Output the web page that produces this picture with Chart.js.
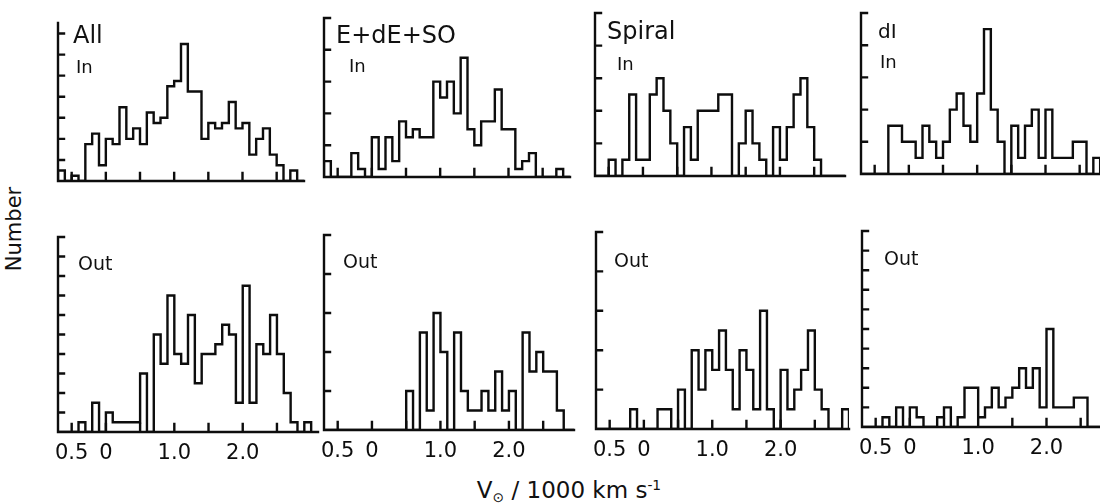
<!DOCTYPE html>
<html>
<head>
<meta charset="utf-8">
<script src="https://cdn.jsdelivr.net/npm/chart.js@4"></script>
<style>
  html, body { margin: 0; padding: 0; background: #fff; overflow: hidden; }
  #wrap { position: relative; width: 1100px; height: 504px; overflow: hidden;
          font-family: 'DejaVu Sans', 'Liberation Sans', sans-serif; color: #111; }
  #wrap canvas { position: absolute; }
  .lbl { position: absolute; white-space: nowrap; line-height: 1; }
  #ytitle { position: absolute; left: 14px; top: 229px; font-size: 21px; line-height: 1;
            transform: translate(-50%, -50%) rotate(-90deg); white-space: nowrap; }
  #xtitle { position: absolute; left: 369px; width: 400px; top: 479px; text-align: center;
            font-size: 23px; line-height: 1; white-space: nowrap; }
  #xtitle sub { font-size: 0.6em; line-height: 0; position: relative; top: 0.3em; vertical-align: baseline; }
  #xtitle sup { font-size: 0.6em; line-height: 0; position: relative; top: -0.6em; vertical-align: baseline; }
</style>
</head>
<body>
<div id="wrap">
  <div id="ytitle">Number</div>
  <div id="xtitle">V<sub>⊙</sub> / 1000 km s<sup>-1</sup></div>
</div>
<script>
// histogram bins: 100 km/s wide, first bin starts at -700 km/s
var binStart = -0.7;
var binWidth = 0.1;

// counts per bin, inner region
var allIn  = [2,0,1,0,7,9,3,8,7,14,8,10,7,13,11,12,18,19,26,17,17,8,11,10,11,15,10,11,5,8,10,5,3,0,2,0,0];
var eIn    = [2,0,0,0,3,1,0,5,1,5,2,7,5,6,5,5,12,10,12,8,15,6,4,7,7,11,6,6,1,2,3,0,0,0,1,0,0];
var spIn   = [0,0,1,0,1,5,1,1,5,6,4,2,0,3,1,4,4,4,5,5,0,2,4,2,1,0,3,1,3,5,6,3,1,0,0,0,0];
var dIn    = [0,0,0,0,3,3,2,2,1,3,2,1,2,4,5,3,2,5,9,4,2,0,3,1,3,4,1,4,1,1,1,2,2,0,1,0,0];

// counts per bin, outer region
var allOut = [0,0,0,1,0,3,0,2,1,1,1,1,6,0,10,7,14,8,7,12,5,8,8,9,11,10,3,15,3,9,8,12,8,4,1,0,1];
var eOut   = [0,0,0,0,0,0,0,0,0,0,0,0,2,0,5,1,6,4,0,5,2,1,1,2,1,3,1,2,0,5,3,4,3,3,1,0,0];
var spOut  = [0,0,0,0,0,1,0,0,0,1,1,0,2,0,4,2,4,3,5,3,1,4,3,1,6,1,0,3,1,2,3,5,2,1,0,0,1];
var dOut   = [0,0,0,1,0,2,0,2,1,0,0,1,2,0,1,4,4,1,2,4,2,3,4,6,4,6,2,10,2,2,2,3,3,0,0,0,0];

var xTickVals = [-0.5, 0, 0.5, 1.0, 1.5, 2.0, 2.5];
var labelVals = [-0.5, 0, 1.0, 2.0];
var labelText = ["0.5", "0", "1.0", "2.0"];

var ink = '#0d0d0d';
var face = "'DejaVu Sans', 'Liberation Sans', sans-serif";
var pxPerUnit = 68.4;
var pad = 8;
var padL = 18;
var xAxisH = 36;
var lineW = 2.4;

var panels = [
  {counts: allIn,  yMax: 30, xMax: 2.9,  left: 58,  top: 23,  bottom: 217, row: 0},
  {counts: eIn,    yMax: 20, xMax: 2.9,  left: 324, top: 18,  bottom: 213, row: 0},
  {counts: spIn,   yMax: 10, xMax: 2.95, left: 595, top: 13,  bottom: 212, row: 0},
  {counts: dIn,    yMax: 10, xMax: 2.9,  left: 861, top: 13,  bottom: 210, row: 0},
  {counts: allOut, yMax: 20, xMax: 3.1,  left: 58,  top: 237, bottom: 432, row: 1},
  {counts: eOut,   yMax: 10, xMax: 2.95, left: 324, top: 235, bottom: 430, row: 1},
  {counts: spOut,  yMax: 10, xMax: 3.0,  left: 596, top: 232, bottom: 429, row: 1},
  {counts: dOut,   yMax: 20, xMax: 2.9,  left: 862, top: 231, bottom: 427, row: 1}
];

var texts = [
  {t: 'All',     x: 73,  base: 43,  size: 24},
  {t: 'In',      x: 76,  base: 73,  size: 18},
  {t: 'E+dE+SO', x: 336, base: 43,  size: 24},
  {t: 'In',      x: 349, base: 72,  size: 18},
  {t: 'Spiral',  x: 607, base: 39,  size: 24},
  {t: 'In',      x: 617, base: 70,  size: 18},
  {t: 'dI',      x: 878, base: 38,  size: 20},
  {t: 'In',      x: 880, base: 68,  size: 18},
  {t: 'Out',     x: 78,  base: 270, size: 19},
  {t: 'Out',     x: 343, base: 268, size: 19},
  {t: 'Out',     x: 614, base: 267, size: 19},
  {t: 'Out',     x: 884, base: 265, size: 19}
];

// axes with the tick marks pointing inwards
var inTicks = {
  id: 'inTicks',
  afterDatasetsDraw: function (chart) {
    var a = chart.chartArea, x = chart.scales.x, y = chart.scales.y, ctx = chart.ctx;
    ctx.save();
    ctx.strokeStyle = ink;
    ctx.lineWidth = lineW;
    ctx.lineCap = 'square';
    ctx.beginPath();
    ctx.moveTo(a.left, a.top);
    ctx.lineTo(a.left, a.bottom);
    ctx.lineTo(a.right, a.bottom);
    y.ticks.forEach(function (t) {
      var py = y.getPixelForValue(t.value);
      ctx.moveTo(a.left, py);
      ctx.lineTo(a.left + 6, py);
    });
    x.ticks.forEach(function (t) {
      var px = x.getPixelForValue(t.value);
      ctx.moveTo(px, a.bottom);
      ctx.lineTo(px, a.bottom - 8);
    });
    ctx.stroke();
    ctx.restore();
  }
};

function histPoints(counts) {
  var pts = [{x: binStart, y: 0}];
  counts.forEach(function (c, i) {
    pts.push({x: binStart + i * binWidth, y: c});
  });
  pts.push({x: binStart + counts.length * binWidth, y: 0});
  return pts;
}

var wrap = document.getElementById('wrap');

panels.forEach(function (p) {
  var bottomRow = p.row === 1;
  var w = Math.round((p.xMax - binStart) * pxPerUnit) + padL + pad;
  var h = (p.bottom - p.top) + pad + (bottomRow ? xAxisH : pad);
  var canvas = document.createElement('canvas');
  canvas.width = w;
  canvas.height = h;
  canvas.style.left = (p.left - padL) + 'px';
  canvas.style.top = (p.top - pad) + 'px';
  canvas.style.width = w + 'px';
  canvas.style.height = h + 'px';
  wrap.appendChild(canvas);

  new Chart(canvas, {
    type: 'line',
    data: {
      datasets: [{
        data: histPoints(p.counts),
        borderColor: ink,
        borderWidth: lineW,
        pointRadius: 0,
        stepped: 'before',
        fill: false
      }]
    },
    options: {
      responsive: false,
      animation: false,
      devicePixelRatio: 1,
      layout: { padding: { left: padL, right: pad, top: pad, bottom: bottomRow ? 0 : pad } },
      plugins: { legend: { display: false }, tooltip: { enabled: false } },
      scales: {
        x: {
          type: 'linear',
          min: binStart,
          max: p.xMax,
          display: bottomRow,
          grid: { display: false, drawTicks: false },
          border: { display: false },
          afterBuildTicks: function (s) {
            s.ticks = xTickVals.map(function (v) { return {value: v}; });
          },
          afterFit: function (s) { s.height = xAxisH; },
          ticks: {
            autoSkip: false,
            maxRotation: 0,
            padding: 9,
            color: ink,
            font: { family: face, size: 21 },
            callback: function (v) {
              for (var k = 0; k < labelVals.length; k++) {
                if (Math.abs(labelVals[k] - v) < 1e-6) return labelText[k];
              }
              return '';
            }
          }
        },
        y: {
          min: 0,
          max: p.yMax,
          display: false,
          ticks: { stepSize: 2 }
        }
      }
    },
    plugins: [inTicks]
  });
});

texts.forEach(function (d) {
  var el = document.createElement('div');
  el.className = 'lbl';
  el.textContent = d.t;
  el.style.fontSize = d.size + 'px';
  el.style.left = d.x + 'px';
  el.style.top = (d.base - 0.846 * d.size) + 'px';
  wrap.appendChild(el);
});
</script>
</body>
</html>
